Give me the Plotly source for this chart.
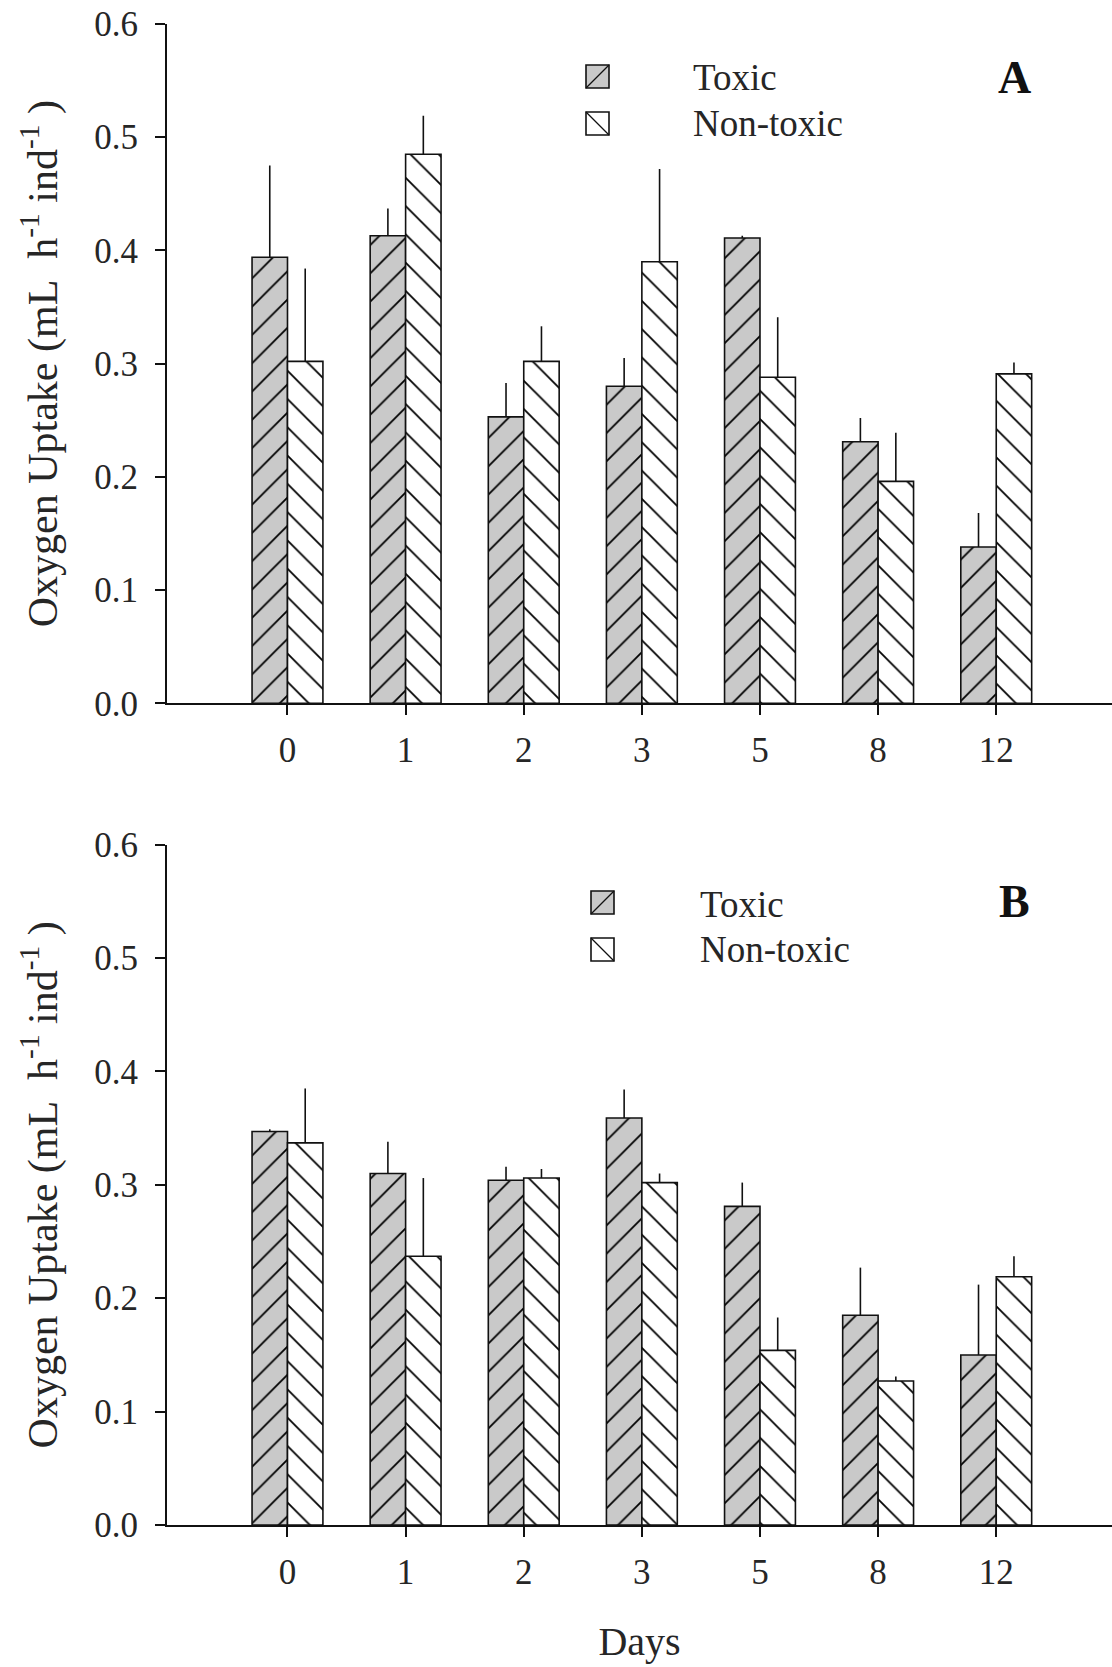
import plotly.graph_objects as go

W, H = 1112, 1667

days = ["0", "1", "2", "3", "5", "8", "12"]

# Panel A
toxic_a = [0.394, 0.413, 0.253, 0.280, 0.411, 0.231, 0.138]
toxic_a_err = [0.081, 0.024, 0.030, 0.025, 0.002, 0.021, 0.030]
nontoxic_a = [0.302, 0.485, 0.302, 0.390, 0.288, 0.196, 0.291]
nontoxic_a_err = [0.082, 0.034, 0.031, 0.082, 0.053, 0.043, 0.010]

# Panel B
toxic_b = [0.347, 0.310, 0.304, 0.359, 0.281, 0.185, 0.150]
toxic_b_err = [0.002, 0.028, 0.012, 0.025, 0.021, 0.042, 0.062]
nontoxic_b = [0.337, 0.237, 0.306, 0.302, 0.154, 0.127, 0.219]
nontoxic_b_err = [0.048, 0.069, 0.008, 0.008, 0.029, 0.004, 0.018]

y_ticks = [0.0, 0.1, 0.2, 0.3, 0.4, 0.5, 0.6]
series_names = ["Toxic", "Non-toxic"]
panel_labels = ["A", "B"]

GRAY = "#c9c9c9"
INK = "#111111"
TXT = "#262626"
FONT = "Liberation Serif"


def px_x(x):
    return x / W


def px_y(y):
    return 1 - y / H


fig = go.Figure()

panels = [
    ("x", "y", toxic_a, toxic_a_err, nontoxic_a, nontoxic_a_err),
    ("x2", "y2", toxic_b, toxic_b_err, nontoxic_b, nontoxic_b_err),
]
for xa, ya, tv, te, nv, ne in panels:
    fig.add_trace(go.Bar(
        x=days, y=tv, xaxis=xa, yaxis=ya, name=series_names[0],
        marker=dict(color=GRAY, line=dict(color=INK, width=1.6),
                    pattern=dict(shape="/", fgcolor="#000000", bgcolor=GRAY,
                                 fgopacity=1, size=20, solidity=0.09)),
        error_y=dict(type="data", symmetric=False, array=te,
                     arrayminus=[0] * len(te), width=0, thickness=1.6, color=INK),
        showlegend=False,
    ))
    fig.add_trace(go.Bar(
        x=days, y=nv, xaxis=xa, yaxis=ya, name=series_names[1],
        marker=dict(color="white", line=dict(color=INK, width=1.6),
                    pattern=dict(shape="\\", fgcolor="#000000", bgcolor="white",
                                 fgopacity=1, size=20, solidity=0.09)),
        error_y=dict(type="data", symmetric=False, array=ne,
                     arrayminus=[0] * len(ne), width=0, thickness=1.6, color=INK),
        showlegend=False,
    ))

xdom = [px_x(167), 1.0]
ydom_a = [px_y(703.3), px_y(24)]
ydom_b = [px_y(1525), px_y(844.7)]

common_x = dict(
    type="category", range=[-1.02, 6.98], showline=True, linecolor=INK,
    linewidth=1.8, ticks="outside", ticklen=10, tickwidth=1.6, tickcolor=INK,
    showgrid=False, zeroline=False, automargin=False,
    tickfont=dict(family=FONT, size=35, color=TXT), ticklabelstandoff=5,
    domain=xdom,
)
ytitle = "Oxygen Uptake (mL&#160; h<sup>-1</sup> ind<sup>-1</sup>&#160;)"
common_y = dict(
    range=[0, 0.6], tickvals=y_ticks, tickformat=".1f", showline=True,
    linecolor=INK, linewidth=1.8, ticks="outside", ticklen=10, tickwidth=1.6,
    tickcolor=INK, showgrid=False, zeroline=False, automargin=False,
    tickfont=dict(family=FONT, size=35, color=TXT), ticklabelstandoff=10,
    title=dict(text=ytitle, font=dict(family=FONT, size=42, color=TXT), standoff=24),
)

fig.update_layout(
    width=W, height=H, margin=dict(l=0, r=0, t=0, b=0, autoexpand=False),
    paper_bgcolor="white", plot_bgcolor="white",
    barmode="group", bargap=0.4, bargroupgap=0,
    xaxis=dict(common_x, anchor="y"),
    yaxis=dict(common_y, anchor="x", domain=ydom_a),
    xaxis2=dict(common_x, anchor="y2",
                title=dict(text="Days", font=dict(family=FONT, size=40, color=TXT), standoff=36)),
    yaxis2=dict(common_y, anchor="x2", domain=ydom_b),
)

# Legend swatches and panel labels (drawn in paper space)
legend_specs = [
    # (square left, toxic top, nontoxic top, text x, toxic text y, nontoxic text y, label y)
    (586, 65, 112, 691, 77, 124, 78),
    (591, 891, 938, 698, 904, 950, 901),
]
shapes = []
annotations = []
sq = 23
for i, (sx, ty, ny, tx, tty, nty, ly) in enumerate(legend_specs):
    shapes.append(dict(type="rect", xref="paper", yref="paper",
                       x0=px_x(sx), x1=px_x(sx + sq), y0=px_y(ty + sq), y1=px_y(ty),
                       fillcolor=GRAY, line=dict(color=INK, width=1.6)))
    shapes.append(dict(type="line", xref="paper", yref="paper",
                       x0=px_x(sx), x1=px_x(sx + sq), y0=px_y(ty + sq), y1=px_y(ty),
                       line=dict(color=INK, width=1.3)))
    shapes.append(dict(type="rect", xref="paper", yref="paper",
                       x0=px_x(sx), x1=px_x(sx + sq), y0=px_y(ny + sq), y1=px_y(ny),
                       fillcolor="white", line=dict(color=INK, width=1.6)))
    shapes.append(dict(type="line", xref="paper", yref="paper",
                       x0=px_x(sx), x1=px_x(sx + sq), y0=px_y(ny), y1=px_y(ny + sq),
                       line=dict(color=INK, width=1.3)))
    annotations.append(dict(text=series_names[0], xref="paper", yref="paper",
                            x=px_x(tx), y=px_y(tty), xanchor="left", yanchor="middle",
                            showarrow=False, font=dict(family=FONT, size=37, color=TXT)))
    annotations.append(dict(text=series_names[1], xref="paper", yref="paper",
                            x=px_x(tx), y=px_y(nty), xanchor="left", yanchor="middle",
                            showarrow=False, font=dict(family=FONT, size=37, color=TXT)))
    annotations.append(dict(text="<b>%s</b>" % panel_labels[i], xref="paper", yref="paper",
                            x=px_x(1014), y=px_y(ly), xanchor="center", yanchor="middle",
                            showarrow=False, font=dict(family=FONT, size=46, color=INK)))

fig.update_layout(shapes=shapes, annotations=annotations)

fig.write_html("out.html")
